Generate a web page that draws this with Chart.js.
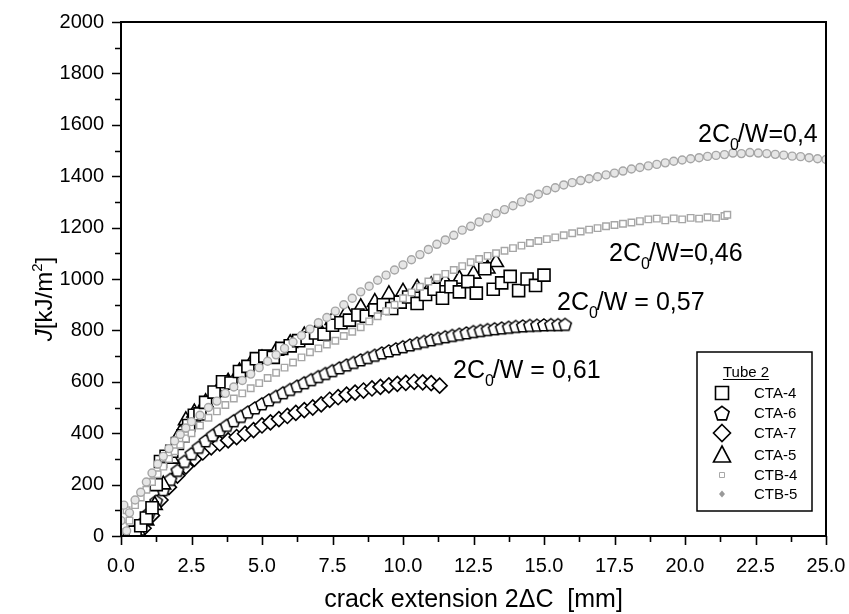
<!DOCTYPE html>
<html>
<head>
<meta charset="utf-8">
<script src="https://cdn.jsdelivr.net/npm/chart.js@4/dist/chart.umd.min.js"></script>
<style>
  html, body { margin: 0; padding: 0; background: #fff; }
  #wrap { width: 849px; height: 614px; position: relative; }
</style>
</head>
<body>
<div id="wrap"><canvas id="jrChart"></canvas></div>
<script>
// ---------------------------
// DATA
// ---------------------------
const seriesNames = ["CTA-4", "CTA-6", "CTA-7", "CTA-5", "CTB-4", "CTB-5"];

// CTA-4 (open squares)
const cta4X = [0.3,0.5,0.7,0.9,1.1,1.25,1.4,1.6,1.8,2.0,2.2,2.4,2.6,2.8,3.0,3.3,3.6,3.9,4.2,4.5,4.8,5.1,5.4,5.7,6.0,6.3,6.6,6.9,7.2,7.5,7.8,8.1,8.4,8.7,9.0,9.3,9.6,9.9,10.2,10.5,10.8,11.1,11.4,11.7,12.0,12.3,12.6,12.9,13.2,13.5,13.8,14.1,14.4,14.7,15.0];
const cta4J = [5,15,40,70,110,200,290,310,330,360,390,430,470,475,520,560,600,595,640,660,690,700,695,730,740,760,770,790,785,820,830,840,860,855,880,900,885,910,930,905,940,960,925,970,950,990,945,1040,960,985,1010,955,1000,975,1015];

// CTA-6 (open pentagons)
const cta6X = [0.5,0.75,1.0,1.25,1.5,1.75,2.0,2.25,2.5,2.75,3.0,3.25,3.5,3.75,4.0,4.25,4.5,4.75,5.0,5.25,5.5,5.75,6.0,6.25,6.5,6.75,7.0,7.25,7.5,7.75,8.0,8.25,8.5,8.75,9.0,9.25,9.5,9.75,10.0,10.25,10.5,10.75,11.0,11.25,11.5,11.75,12.0,12.25,12.5,12.75,13.0,13.25,13.5,13.75,14.0,14.25,14.5,14.75,15.0,15.25,15.5,15.75];
const cta6J = [20,50,90,135,180,220,255,290,320,345,370,392,412,430,448,465,482,498,514,529,543,557,570,583,596,608,620,632,643,654,665,675,685,694,703,712,720,728,736,743,750,757,763,769,775,780,785,790,795,799,803,806,809,812,815,817,819,820,821,822,822,823];

// CTA-7 (open diamonds)
const cta7X = [0.8,1.1,1.4,1.7,2.0,2.3,2.6,2.9,3.2,3.5,3.8,4.1,4.4,4.7,5.0,5.3,5.6,5.9,6.2,6.5,6.8,7.1,7.4,7.7,8.0,8.3,8.6,8.9,9.2,9.5,9.8,10.1,10.4,10.7,11.0,11.3];
const cta7J = [30,80,140,190,235,270,300,325,345,360,372,385,398,412,430,442,455,467,479,490,500,512,530,540,550,558,566,574,580,586,592,596,600,598,595,585];

// CTA-5 (open triangles)
const cta5X = [0.6,0.9,1.2,1.5,1.8,2.1,2.3,2.6,3.0,3.4,3.8,4.2,4.6,5.0,5.5,6.0,6.5,7.0,7.5,8.0,8.5,9.0,9.5,10.0,10.5,11.0,11.5,12.0,12.5,13.0,13.3];
const cta5J = [20,60,120,200,300,400,450,480,520,560,600,640,670,690,720,750,780,810,840,870,890,910,940,950,965,975,990,1000,1020,1040,1065];

// CTB-4 (small grey squares)
const ctb4X = [0.1,0.2,0.3,0.5,0.7,0.9,1.1,1.3,1.5,1.7,1.9,2.1,2.3,2.5,2.8,3.1,3.4,3.7,4.0,4.3,4.6,4.9,5.2,5.5,5.8,6.1,6.4,6.7,7.0,7.3,7.6,7.9,8.2,8.5,8.8,9.1,9.4,9.7,10.0,10.3,10.6,10.9,11.2,11.5,11.8,12.1,12.4,12.7,13.0,13.3,13.6,13.9,14.2,14.5,14.8,15.1,15.4,15.7,16.0,16.3,16.6,16.9,17.2,17.5,17.8,18.1,18.4,18.7,19.0,19.3,19.6,19.9,20.2,20.5,20.8,21.1,21.4,21.5];
const ctb4J = [40,100,60,120,150,180,210,240,270,300,330,355,380,400,430,460,485,510,535,555,575,595,615,635,655,675,695,715,730,745,760,778,795,812,835,855,875,900,925,948,970,990,1005,1020,1035,1050,1065,1078,1090,1100,1110,1120,1130,1140,1148,1155,1162,1170,1178,1185,1192,1198,1205,1210,1215,1220,1225,1232,1235,1228,1236,1232,1238,1235,1240,1238,1245,1250];

// CTB-5 (small grey circles)
const ctb5X = [0.0,0.1,0.2,0.3,0.5,0.7,0.9,1.1,1.3,1.5,1.7,1.9,2.1,2.3,2.5,2.8,3.1,3.4,3.7,4.0,4.3,4.6,4.9,5.2,5.5,5.8,6.1,6.4,6.7,7.0,7.3,7.6,7.9,8.2,8.5,8.8,9.1,9.4,9.7,10.0,10.3,10.6,10.9,11.2,11.5,11.8,12.1,12.4,12.7,13.0,13.3,13.6,13.9,14.2,14.5,14.8,15.1,15.4,15.7,16.0,16.3,16.6,16.9,17.2,17.5,17.8,18.1,18.4,18.7,19.0,19.3,19.6,19.9,20.2,20.5,20.8,21.1,21.4,21.7,22.0,22.3,22.6,22.9,23.2,23.5,23.8,24.1,24.4,24.7,25.0];
const ctb5J = [60,120,20,90,140,170,210,245,280,310,340,370,395,420,445,470,500,525,555,580,605,630,655,680,705,730,755,780,805,830,850,875,900,925,950,972,995,1015,1035,1055,1075,1095,1115,1135,1152,1170,1190,1205,1222,1238,1255,1270,1285,1300,1315,1330,1345,1355,1366,1375,1383,1390,1398,1405,1412,1420,1428,1434,1440,1446,1452,1458,1463,1468,1472,1477,1481,1484,1490,1488,1492,1490,1488,1485,1482,1478,1476,1472,1468,1465];

// axis ranges / tick steps
const xRange = [0, 25];
const yRange = [0, 2000];
const xMajor = 2.5, xMinor = 1.25;
const yMajor = 200, yMinor = 100;

// curve labels (2C0/W = ...)
const ratioLabels = ["=0,4", "=0,46", " = 0,57", " = 0,61"];

const FONT = '"Liberation Sans", Arial, Helvetica, sans-serif';

const toPoints = (xs, ys) => xs.map((v, i) => ({ x: v, y: ys[i] }));

// pentagon marker, no built-in style for it
function makePentagon(r, stroke, fill, lw) {
    const c = document.createElement("canvas");
    const s = Math.ceil(r * 2 + lw * 2 + 2);
    c.width = s; c.height = s;
    const g = c.getContext("2d");
    g.beginPath();
    for (let i = 0; i < 5; i++) {
        const a = -Math.PI / 2 + i * 2 * Math.PI / 5;
        const px = s / 2 + r * Math.cos(a), py = s / 2 + r * Math.sin(a) + 0.5;
        i ? g.lineTo(px, py) : g.moveTo(px, py);
    }
    g.closePath();
    g.fillStyle = fill; g.fill();
    g.strokeStyle = stroke; g.lineWidth = lw; g.stroke();
    return c;
}
const pentagon = makePentagon(6.5, "#000", "#fff", 1.5);

// ---------------------------
// AXIS DECORATION + LEGEND + LABELS
// ---------------------------
function drawRatio(ctx, x, base, tail, size) {
    ctx.font = size + "px " + FONT;
    ctx.textBaseline = "alphabetic";
    ctx.textAlign = "left";
    ctx.fillText("2C", x, base);
    x += ctx.measureText("2C").width;
    ctx.font = Math.round(size * 0.62) + "px " + FONT;
    ctx.fillText("0", x, base + size * 0.3);
    x += ctx.measureText("0").width - 1;
    ctx.font = size + "px " + FONT;
    ctx.fillText("/W" + tail, x, base);
}

function legendMarker(ctx, kind, x, y) {
    ctx.beginPath();
    if (kind === "square") {
        ctx.rect(x - 6.5, y - 6.5, 13, 13);
    } else if (kind === "pentagon") {
        for (let i = 0; i < 5; i++) {
            const a = -Math.PI / 2 + i * 2 * Math.PI / 5;
            const px = x + 7.5 * Math.cos(a), py = y + 7.5 * Math.sin(a) + 0.8;
            i ? ctx.lineTo(px, py) : ctx.moveTo(px, py);
        }
        ctx.closePath();
    } else if (kind === "diamond") {
        ctx.moveTo(x, y - 8.5); ctx.lineTo(x + 8.5, y); ctx.lineTo(x, y + 8.5); ctx.lineTo(x - 8.5, y); ctx.closePath();
    } else if (kind === "triangle") {
        ctx.moveTo(x, y - 9); ctx.lineTo(x + 8.5, y + 7); ctx.lineTo(x - 8.5, y + 7); ctx.closePath();
    } else if (kind === "small") {
        ctx.rect(x - 2.5, y - 2.5, 5, 5);
    } else if (kind === "dot") {
        ctx.moveTo(x, y - 3.5); ctx.lineTo(x + 3, y); ctx.lineTo(x, y + 3.5); ctx.lineTo(x - 3, y); ctx.closePath();
    }
}

const decorPlugin = {
    id: "decor",
    afterDraw(chart) {
        const { ctx, chartArea: a, scales: { x, y } } = chart;
        ctx.save();
        ctx.strokeStyle = "#000";
        ctx.fillStyle = "#000";

        // frame
        ctx.lineWidth = 2;
        ctx.strokeRect(a.left, a.top, a.right - a.left, a.bottom - a.top);

        // outward ticks, minor ones shorter
        ctx.lineWidth = 1.6;
        ctx.beginPath();
        for (let v = xRange[0]; v <= xRange[1] + 1e-9; v += xMinor) {
            const px = Math.round(x.getPixelForValue(v)) + 0.5;
            const major = Math.abs(v / xMajor - Math.round(v / xMajor)) < 1e-6;
            ctx.moveTo(px, a.bottom);
            ctx.lineTo(px, a.bottom + (major ? 9 : 6));
        }
        for (let v = yRange[0]; v <= yRange[1] + 1e-9; v += yMinor) {
            const py = Math.round(y.getPixelForValue(v)) + 0.5;
            const major = v % yMajor === 0;
            ctx.moveTo(a.left, py);
            ctx.lineTo(a.left - (major ? 9 : 6), py);
        }
        ctx.stroke();

        // x title
        ctx.font = "25px " + FONT;
        ctx.textAlign = "center";
        ctx.textBaseline = "alphabetic";
        ctx.fillText("crack extension 2\u0394C  [mm]", (a.left + a.right) / 2, 607);

        // y title: italic J, superscript 2
        ctx.save();
        ctx.translate(52, (a.top + a.bottom) / 2 + 20);
        ctx.rotate(-Math.PI / 2);
        const parts = [
            { t: "J", f: "italic 24px " + FONT, dy: 0 },
            { t: "[kJ/m", f: "24px " + FONT, dy: 0 },
            { t: "2", f: "15px " + FONT, dy: -10 },
            { t: "]", f: "24px " + FONT, dy: 0 }
        ];
        let total = 0;
        parts.forEach(p => { ctx.font = p.f; total += ctx.measureText(p.t).width; });
        let cx = -total / 2;
        ctx.textAlign = "left";
        parts.forEach(p => { ctx.font = p.f; ctx.fillText(p.t, cx, p.dy); cx += ctx.measureText(p.t).width; });
        ctx.restore();

        // curve labels
        drawRatio(ctx, 698, 142, ratioLabels[0], 25);
        drawRatio(ctx, 609, 261, ratioLabels[1], 25);
        drawRatio(ctx, 557, 310, ratioLabels[2], 25);
        drawRatio(ctx, 453, 378, ratioLabels[3], 25);

        // legend box
        const lx = 697, ly = 352, lw = 115, lh = 159;
        ctx.fillStyle = "#fff";
        ctx.fillRect(lx, ly, lw, lh);
        ctx.lineWidth = 1.5;
        ctx.strokeRect(lx, ly, lw, lh);
        ctx.fillStyle = "#000";
        ctx.font = "15px " + FONT;
        ctx.textAlign = "left";
        ctx.textBaseline = "alphabetic";
        const head = "Tube 2";
        const hw = ctx.measureText(head).width;
        ctx.fillText(head, 746 - hw / 2, 377);
        ctx.lineWidth = 1;
        ctx.beginPath();
        ctx.moveTo(746 - hw / 2, 379.5); ctx.lineTo(746 + hw / 2, 379.5);
        ctx.stroke();

        const kinds = ["square", "pentagon", "diamond", "triangle", "small", "dot"];
        const rows = [393, 413, 433, 455, 475, 494];
        kinds.forEach((k, i) => {
            const grey = i >= 4;
            legendMarker(ctx, k, 722, rows[i]);
            if (k === "dot") {
                ctx.fillStyle = "#999"; ctx.fill();
            } else {
                ctx.fillStyle = "#fff"; ctx.fill();
                ctx.strokeStyle = grey ? "#a8a8a8" : "#000";
                ctx.lineWidth = grey ? 1 : 1.6;
                ctx.stroke();
            }
            ctx.fillStyle = "#000";
            ctx.font = "15px " + FONT;
            ctx.textBaseline = "middle";
            ctx.fillText(seriesNames[i], 754, rows[i] + 1);
        });
        ctx.restore();
    }
};

// ---------------------------
// CHART
// ---------------------------
document.addEventListener("DOMContentLoaded", () => {
    const el = document.getElementById("jrChart");

    const black = (label, data, style, radius, order) => ({
        label, data, order,
        pointStyle: style,
        pointRadius: radius,
        pointBorderWidth: 1.6,
        pointBorderColor: "#000",
        pointBackgroundColor: "#fff",
        showLine: false
    });
    const grey = (label, data, style, radius, order, fill) => ({
        label, data, order,
        pointStyle: style,
        pointRadius: radius,
        pointBorderWidth: 1.4,
        pointBorderColor: "#a6a6a6",
        pointBackgroundColor: fill,
        showLine: false
    });

    new Chart(el.getContext("2d"), {
        type: "scatter",
        data: {
            datasets: [
                grey(seriesNames[5], toPoints(ctb5X, ctb5J), "circle", 4, 1, "#e6e6e6"),
                grey(seriesNames[4], toPoints(ctb4X, ctb4J), "rect", 4.6, 2, "#ffffff"),
                black(seriesNames[0], toPoints(cta4X, cta4J), "rect", 8.5, 3),
                black(seriesNames[3], toPoints(cta5X, cta5J), "triangle", 8.5, 4),
                black(seriesNames[1], toPoints(cta6X, cta6J), pentagon, 7, 5),
                black(seriesNames[2], toPoints(cta7X, cta7J), "rectRot", 7.5, 6)
            ]
        },
        options: {
            responsive: true,
            maintainAspectRatio: false,
            animation: false,
            events: [],
            layout: { padding: { top: 22, right: 23, left: 0, bottom: 0 } },
            plugins: {
                legend: { display: false },
                tooltip: { enabled: false },
                title: { display: false }
            },
            scales: {
                x: {
                    type: "linear",
                    min: xRange[0], max: xRange[1],
                    afterFit: s => { s.height = 78; s.paddingLeft = 0; s.paddingRight = 0; },
                    afterBuildTicks: s => {
                        s.ticks = [];
                        for (let v = xRange[0]; v <= xRange[1] + 1e-9; v += xMajor) s.ticks.push({ value: v });
                    },
                    grid: { drawOnChartArea: false, drawTicks: true, tickLength: 9, color: "transparent" },
                    border: { display: true, color: "#000", width: 2 },
                    ticks: {
                        autoSkip: false, maxRotation: 0, padding: 9,
                        color: "#000",
                        font: { family: FONT, size: 20 },
                        callback: v => Number(v).toFixed(1)
                    }
                },
                y: {
                    type: "linear",
                    min: yRange[0], max: yRange[1],
                    afterFit: s => { s.width = 121; s.paddingTop = 0; s.paddingBottom = 0; },
                    afterBuildTicks: s => {
                        s.ticks = [];
                        for (let v = yRange[0]; v <= yRange[1]; v += yMajor) s.ticks.push({ value: v });
                    },
                    grid: { drawOnChartArea: false, drawTicks: true, tickLength: 9, color: "transparent" },
                    border: { display: true, color: "#000", width: 2 },
                    ticks: {
                        padding: 8,
                        color: "#000",
                        font: { family: FONT, size: 20 },
                        callback: v => String(v)
                    }
                }
            }
        },
        plugins: [decorPlugin]
    });
});
</script>
</body>
</html>
